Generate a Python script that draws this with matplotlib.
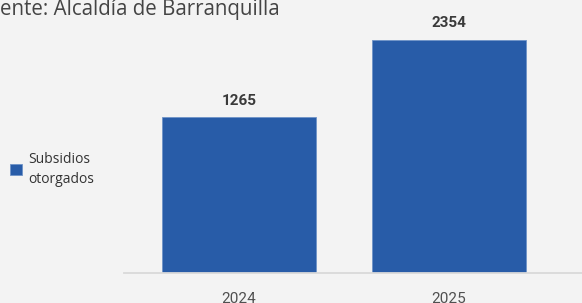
import matplotlib.pyplot as plt

# Datos
years = ['2024', '2025']
subsidios = [1265, 2354]
base = -940  # el eje no parte de cero en el original

bar_color = '#285ca8'
bg = '#f3f3f3'

fig = plt.figure(figsize=(5.82, 3.03), dpi=100, facecolor=bg)
ax = fig.add_axes([124 / 582, 1 - 273 / 303, 1 - 124 / 582, 273 / 303])
ax.set_facecolor(bg)

x = range(len(years))
heights = [v - base for v in subsidios]
bars = ax.bar(x, heights, bottom=base, width=0.733, color=bar_color,
              edgecolor='#6f93c8', linewidth=0.6, label='Subsidios\notorgados')

for xi, v in zip(x, subsidios):
    ax.text(xi, v + 135, str(v), ha='center', va='bottom', fontsize=11,
            fontweight='bold', color='#3a3a3a', family='Roboto')

ax.set_ylim(base, 2920)
ax.set_xlim(-0.548, 1.633)
ax.set_xticks(list(x))
ax.set_xticklabels(years, fontsize=11, color='#505050', family='Roboto')
ax.tick_params(axis='x', length=0, pad=14)
ax.set_yticks([])
for s in ['top', 'right', 'left']:
    ax.spines[s].set_visible(False)
ax.spines['bottom'].set_color('#d9d9d9')
ax.spines['bottom'].set_linewidth(1.3)

fig.text(0.0, 1 - 10 / 303, 'ente: Alcaldía de Barranquilla', ha='left', va='center',
         fontsize=14.8, color='#444444', family='Open Sans')

leg = fig.legend(handles=[bars], loc='upper left', bbox_to_anchor=(0.0, 1 - 142 / 303),
                 frameon=False, handlelength=0.85, handleheight=0.85,
                 handletextpad=0.5, borderaxespad=0.3, prop={'family': 'Open Sans', 'size': 10})
for t in leg.get_texts():
    t.set_color('#333333')
    t.set_linespacing(1.45)

fig.savefig('out.png', dpi=100, facecolor=bg)
